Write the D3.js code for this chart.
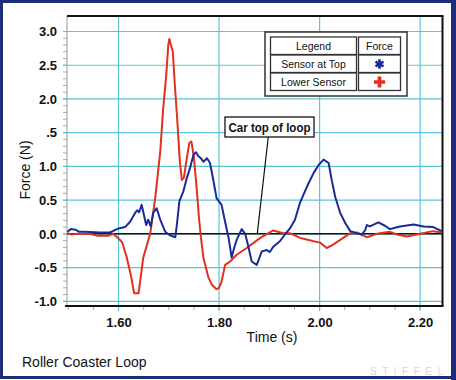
<!DOCTYPE html>
<html>
<head>
<meta charset="utf-8">
<script src="https://cdn.jsdelivr.net/npm/d3@7"></script>
<style>
html,body{margin:0;padding:0;background:#fff;}
svg{display:block;font-family:Arial,"Liberation Sans",sans-serif;}
</style>
</head>
<body>
<svg id="chart" width="456" height="380"></svg>
<script>
// ---- data ----
const topTimes = [1.498,1.505,1.515,1.522,1.533,1.563,1.583,1.600,1.613,1.623,1.633,1.637,1.641,1.646,1.649,1.655,1.659,1.664,1.669,1.676,1.683,1.693,1.702,1.713,1.716,1.721,1.729,1.736,1.742,1.749,1.754,1.759,1.764,1.769,1.776,1.782,1.789,1.795,1.805,1.812,1.819,1.825,1.830,1.835,1.845,1.852,1.858,1.865,1.875,1.885,1.895,1.901,1.908,1.921,1.931,1.941,1.951,1.961,1.968,1.978,1.988,1.998,2.008,2.018,2.024,2.031,2.041,2.051,2.061,2.074,2.084,2.091,2.094,2.100,2.117,2.130,2.140,2.150,2.160,2.187,2.207,2.226,2.243];
const topValues = [0.03,0.07,0.06,0.03,0.03,0.02,0.02,0.08,0.10,0.18,0.31,0.35,0.32,0.43,0.33,0.13,0.21,0.11,0.31,0.38,0.21,0.03,-0.02,-0.05,0.13,0.48,0.63,0.83,0.97,1.17,1.21,1.15,1.12,1.07,1.12,1.05,0.78,0.53,0.43,0.18,-0.06,-0.35,-0.21,-0.09,0.07,0.00,-0.18,-0.41,-0.46,-0.26,-0.24,-0.27,-0.19,-0.11,-0.01,0.08,0.21,0.46,0.58,0.75,0.90,1.02,1.10,1.05,0.80,0.55,0.31,0.16,0.04,0.01,-0.01,0.06,0.13,0.11,0.17,0.12,0.07,0.09,0.11,0.14,0.11,0.10,0.04];
const lowerTimes = [1.498,1.507,1.519,1.543,1.559,1.579,1.589,1.596,1.607,1.616,1.625,1.631,1.640,1.649,1.663,1.673,1.683,1.689,1.695,1.699,1.701,1.708,1.712,1.717,1.722,1.726,1.730,1.736,1.741,1.745,1.750,1.756,1.760,1.764,1.769,1.779,1.786,1.795,1.800,1.805,1.812,1.822,1.835,1.855,1.882,1.908,1.928,1.941,1.961,1.978,1.988,2.001,2.014,2.027,2.047,2.061,2.074,2.094,2.114,2.140,2.154,2.174,2.200,2.226,2.243];
const lowerValues = [0.01,-0.01,0.00,0.00,-0.03,-0.03,0.00,-0.04,-0.12,-0.34,-0.63,-0.88,-0.88,-0.36,0.00,0.53,1.22,1.87,2.36,2.80,2.89,2.70,2.21,1.67,1.07,0.80,0.83,1.13,1.35,1.37,1.13,0.63,0.24,-0.06,-0.36,-0.65,-0.76,-0.82,-0.80,-0.71,-0.46,-0.41,-0.31,-0.21,-0.06,0.05,0.01,0.01,-0.06,-0.09,-0.11,-0.13,-0.21,-0.16,-0.06,0.01,0.02,-0.05,0.00,0.03,-0.01,-0.04,0.00,0.04,0.02];
const xTickValues = [1.60,1.80,2.00,2.20];
const xTickLabels = ["1.60","1.80","2.00","2.20"];
const yTickValues = [3.0,2.5,2.0,1.5,1.0,0.5,0.0,-0.5,-1.0];
const yTickLabels = ["3.0","2.5","2.0",".5","1.0","0.5","0.0","-0.5","-1.0"];
const seriesNames = ["Sensor at Top","Lower Sensor"];
const annotationTime = 1.876;
const annotationText = "Car top of loop";

// ---- layout ----
const svg = d3.select("#chart");
const W = 456, H = 380;
const L = 67, R = 442.5, T = 16, B = 306;
const x = d3.scaleLinear().domain([1.4975, 2.2445]).range([L, R]);
const y = d3.scaleLinear().domain([-1.07, 3.23]).range([B, T]);
const navy = "#1e2d78", grid = "#5cc3dc", blue = "#1b2a99", red = "#e1301c";

svg.append("rect").attr("x",1.5).attr("y",1.5).attr("width",W-5).attr("height",H-4)
  .attr("fill","#fff").attr("stroke",navy).attr("stroke-width",3);
svg.append("rect").attr("x",W-5).attr("y",0).attr("width",5).attr("height",H).attr("fill",navy);

// minor ticks
const yMinor = d3.range(-10, 31).map(d => d/10);
svg.append("g").selectAll("line").data(yMinor).join("line")
  .attr("x1",L-4).attr("x2",L).attr("y1",d=>y(d)).attr("y2",d=>y(d))
  .attr("stroke","#aaa").attr("stroke-width",1);
const xMinor = d3.range(30, 45).map(d => d/20);
svg.append("g").selectAll("line").data(xMinor).join("line")
  .attr("x1",d=>x(d)).attr("x2",d=>x(d)).attr("y1",B).attr("y2",B+4)
  .attr("stroke","#aaa").attr("stroke-width",1);

// gridlines
svg.append("g").selectAll("line").data(yTickValues).join("line")
  .attr("x1",L-4).attr("x2",R).attr("y1",d=>y(d)).attr("y2",d=>y(d))
  .attr("stroke",grid).attr("stroke-width",1.2);
svg.append("g").selectAll("line").data(xTickValues).join("line")
  .attr("x1",d=>x(d)).attr("x2",d=>x(d)).attr("y1",T).attr("y2",B+5)
  .attr("stroke",grid).attr("stroke-width",1.2);

// frame lines
svg.append("line").attr("x1",L).attr("x2",L).attr("y1",T).attr("y2",B).attr("stroke","#999").attr("stroke-width",1);
svg.append("line").attr("x1",L).attr("x2",R+1).attr("y1",T).attr("y2",T).attr("stroke","#111").attr("stroke-width",2);
svg.append("line").attr("x1",L-2).attr("x2",R+1).attr("y1",B).attr("y2",B).attr("stroke","#111").attr("stroke-width",2);
svg.append("line").attr("x1",R).attr("x2",R).attr("y1",T).attr("y2",B).attr("stroke","#111").attr("stroke-width",2);
svg.append("line").attr("x1",L).attr("x2",R).attr("y1",y(0)).attr("y2",y(0)).attr("stroke","#111").attr("stroke-width",1.5);

// axes labels via d3 axes
const yAxis = d3.axisLeft(y).tickValues(yTickValues).tickSize(0).tickPadding(10)
  .tickFormat((d,i)=>yTickLabels[i]);
const gy = svg.append("g").attr("transform",`translate(${L},0)`).call(yAxis);
gy.select(".domain").remove();
gy.selectAll("text").attr("font-size",13).attr("font-weight","bold").attr("fill","#111")
  .attr("font-family","Arial,'Liberation Sans',sans-serif");
const xAxis = d3.axisBottom(x).tickValues(xTickValues).tickSize(0).tickPadding(12)
  .tickFormat((d,i)=>xTickLabels[i]);
const gx = svg.append("g").attr("transform",`translate(0,${B})`).call(xAxis);
gx.select(".domain").remove();
gx.selectAll("text").attr("font-size",13).attr("font-weight","bold").attr("fill","#111")
  .attr("font-family","Arial,'Liberation Sans',sans-serif");

svg.append("text").attr("transform","translate(30,170) rotate(-90)").attr("text-anchor","middle")
  .attr("font-size",14).attr("fill","#111").text("Force (N)");
svg.append("text").attr("x",272).attr("y",342).attr("text-anchor","middle")
  .attr("font-size",14).attr("fill","#111").text("Time (s)");
svg.append("text").attr("x",22).attr("y",367)
  .attr("font-size",14).attr("fill","#111").text("Roller Coaster Loop");
svg.append("text").attr("x",370).attr("y",375)
  .attr("font-size",10).attr("fill","#d8d8d8").attr("textLength",73).attr("lengthAdjust","spacing").text("STIFFEL");

// lines
const clip = svg.append("clipPath").attr("id","clip").append("rect")
  .attr("x",L).attr("y",T).attr("width",R-L).attr("height",B-T);
const line = d3.line().x(d=>x(d[0])).y(d=>y(d[1]));
const lowerData = lowerTimes.map((t,i)=>[t,lowerValues[i]]);
const topData = topTimes.map((t,i)=>[t,topValues[i]]);
svg.append("path").datum(lowerData).attr("d",line).attr("fill","none")
  .attr("stroke",red).attr("stroke-width",2).attr("stroke-linejoin","round").attr("clip-path","url(#clip)");
svg.append("path").datum(topData).attr("d",line).attr("fill","none")
  .attr("stroke",blue).attr("stroke-width",2).attr("stroke-linejoin","round").attr("clip-path","url(#clip)");

// annotation
const ax = x(annotationTime), ay = y(0);
svg.append("line").attr("x1",ax).attr("y1",ay).attr("x2",ax+11).attr("y2",137)
  .attr("stroke","#111").attr("stroke-width",1.2);
svg.append("rect").attr("x",225).attr("y",117).attr("width",89).attr("height",20)
  .attr("fill","#fff").attr("stroke","#111").attr("stroke-width",1.3);
svg.append("text").attr("x",269.5).attr("y",132).attr("text-anchor","middle")
  .attr("font-size",13).attr("font-weight","bold").attr("fill","#111")
  .attr("textLength",82).attr("lengthAdjust","spacingAndGlyphs").text(annotationText);

// legend
const lg = svg.append("g");
lg.append("rect").attr("x",265).attr("y",32).attr("width",142).attr("height",64)
  .attr("fill","#fff").attr("stroke","#333").attr("stroke-width",1.5);
const rows = [["Legend","Force"],[seriesNames[0],""],[seriesNames[1],""]];
rows.forEach((r,i)=>{
  const y0 = 37 + i*18;
  lg.append("rect").attr("x",270.5).attr("y",y0).attr("width",86).attr("height",17.5)
    .attr("fill","#fff").attr("stroke","#333").attr("stroke-width",1.3);
  lg.append("rect").attr("x",358.5).attr("y",y0).attr("width",42).attr("height",17.5)
    .attr("fill","#fff").attr("stroke","#333").attr("stroke-width",1.3);
  lg.append("text").attr("x",313.5).attr("y",y0+13).attr("text-anchor","middle")
    .attr("font-size",10.5).attr("fill","#111").text(r[0]);
  if (r[1]) lg.append("text").attr("x",379.5).attr("y",y0+13).attr("text-anchor","middle")
    .attr("font-size",10.5).attr("fill","#111").text(r[1]);
});
lg.append("path").attr("d",d3.symbol(d3.symbolAsterisk,60)())
  .attr("transform","translate(379.5,64)").attr("stroke",blue).attr("stroke-width",2.6).attr("fill","none");
lg.append("path").attr("d",d3.symbol(d3.symbolCross,70)())
  .attr("transform","translate(379.5,82)").attr("fill",red);
</script>
</body>
</html>
